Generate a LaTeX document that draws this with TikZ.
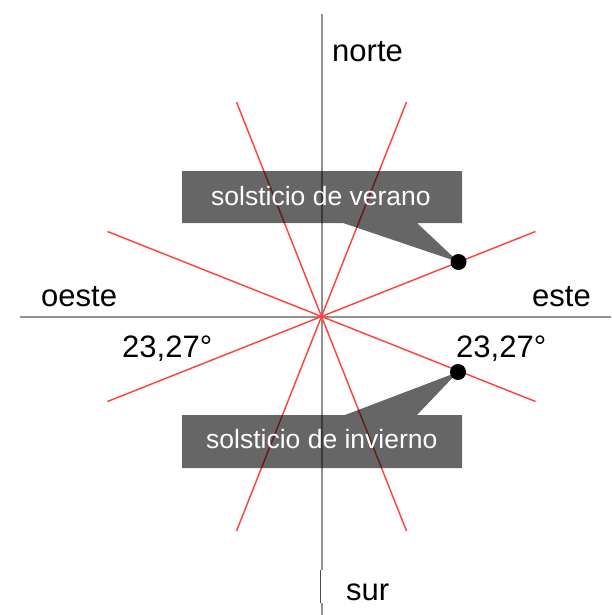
\documentclass[tikz,border=0pt]{standalone}
\usepackage{fontspec}
\setmainfont{Liberation Sans}
\begin{document}
\begin{tikzpicture}[x=1pt,y=-1pt,
  axis/.style={draw={rgb,255:red,145;green,145;blue,145},line width=2.2pt},
  ray/.style={draw={rgb,255:red,255;green,70;blue,70},line width=1.5pt},
  lbl/.style={font=\fontsize{31}{37}\selectfont,inner sep=0pt,anchor=base west},
  callout/.style={fill=black,fill opacity=0.6,draw=none},
  ctext/.style={font=\fontsize{26.5}{32}\selectfont,text=white,inner sep=0pt,anchor=base west},
  dot/.style={circle,fill=black,inner sep=0pt,minimum size=16pt}]
\useasboundingbox (0,0) rectangle (611,615);
% axes
\coordinate (N) at (321.7,14);
\coordinate (S) at (321.7,615);
\coordinate (W) at (20,316.6);
\coordinate (E) at (611,316.6);
\coordinate (C) at (321.5,316.5);
\draw[axis] (N) -- (S);
\draw[axis] (W) -- (E);
\coordinate (gapA) at (321.7,570);
\coordinate (gapB) at (321.7,603);
\draw[white,line width=3pt] (gapA) -- (gapB);
\coordinate (gapC) at (320.8,570);
\coordinate (gapD) at (320.8,603);
\draw[black!70,line width=1pt] (gapC) -- (gapD);
% red rays
\coordinate (r1a) at (107.5,231.5);
\coordinate (r1b) at (535.5,401.5);
\coordinate (r2a) at (107.5,401.5);
\coordinate (r2b) at (535.5,231.5);
\coordinate (r3a) at (236.5,102);
\coordinate (r3b) at (406.5,531);
\coordinate (r4a) at (406.5,102);
\coordinate (r4b) at (236.5,531);
\draw[ray] (r1a) -- (C) -- (r1b);
\draw[ray] (r2a) -- (C) -- (r2b);
\draw[ray] (r3a) -- (C) -- (r3b);
\draw[ray] (r4a) -- (C) -- (r4b);
% dots
\coordinate (sum) at (458.5,262);
\coordinate (win) at (458,372);
% callouts
\fill[callout] (182,171) -- (462,171) -- (462,223) -- (417,223) -- (sum) -- (343,223) -- (182,223) -- cycle;
\fill[callout] (182,468) -- (462,468) -- (462,415) -- (417,415) -- (win) -- (345,415) -- (182,415) -- cycle;
\node[dot] (sumdot) at (sum) {};
\node[dot] (windot) at (win) {};
\node[ctext] (tsum) at (211,205) {solsticio de verano};
\node[ctext] (twin) at (206,448) {solsticio de invierno};
% labels
\node[lbl] (norte) at (332,62) {norte};
\node[lbl] (sur) at (346,600) {sur};
\node[lbl] (oeste) at (41,306) {oeste};
\node[lbl] (este) at (532,306) {este};
\node[lbl] (angL) at (122,357) {23,27°};
\node[lbl] (angR) at (456,357) {23,27°};
\end{tikzpicture}
\end{document}
